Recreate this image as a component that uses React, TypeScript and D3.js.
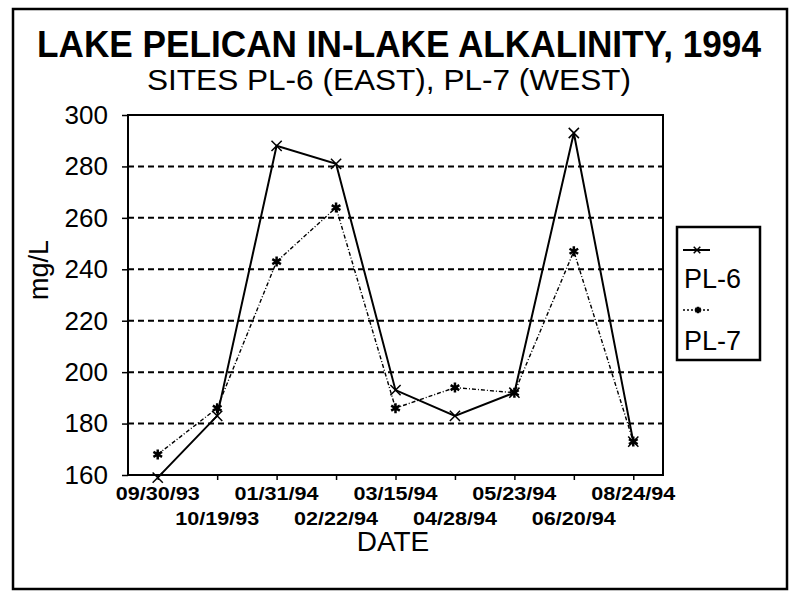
import React, { useRef, useEffect } from "react";
import * as d3 from "d3";

const dates = [
  "09/30/93",
  "10/19/93",
  "01/31/94",
  "02/22/94",
  "03/15/94",
  "04/28/94",
  "05/23/94",
  "06/20/94",
  "08/24/94",
];
const pl6 = [159, 183, 288, 281, 193, 183, 192, 293, 173];
const pl7 = [168, 186, 243, 264, 186, 194, 192, 247, 173];
const yTicks = [160, 180, 200, 220, 240, 260, 280, 300];

const W = 791;
const H = 592;
const FONT = "'Liberation Sans', Arial, sans-serif";

const App = () => {
  const ref = useRef<SVGSVGElement>(null);

  useEffect(() => {
    const svg = d3.select(ref.current);
    svg.selectAll("*").remove();

    const margin = { top: 115, bottom: 117, left: 128, right: 128 };
    const x = d3
      .scalePoint<string>()
      .domain(dates)
      .range([margin.left, W - margin.right])
      .padding(0.5);
    const y = d3
      .scaleLinear()
      .domain([160, 300])
      .range([H - margin.bottom, margin.top]);

    // outer frame
    svg
      .append("rect")
      .attr("x", 13)
      .attr("y", 9)
      .attr("width", 774)
      .attr("height", 580)
      .attr("fill", "none")
      .attr("stroke", "#000")
      .attr("stroke-width", 2.5);

    svg
      .append("text")
      .attr("x", 399)
      .attr("y", 57)
      .attr("text-anchor", "middle")
      .attr("font-family", FONT)
      .attr("font-weight", "bold")
      .attr("font-size", 36)
      .attr("textLength", 724)
      .attr("lengthAdjust", "spacingAndGlyphs")
      .text("LAKE PELICAN IN-LAKE ALKALINITY, 1994");

    svg
      .append("text")
      .attr("x", 389)
      .attr("y", 90)
      .attr("text-anchor", "middle")
      .attr("font-family", FONT)
      .attr("font-size", 29)
      .attr("textLength", 484)
      .attr("lengthAdjust", "spacingAndGlyphs")
      .text("SITES PL-6 (EAST), PL-7 (WEST)");

    // gridlines
    svg
      .append("g")
      .selectAll("line")
      .data(yTicks.filter((t) => t > 160 && t < 300))
      .enter()
      .append("line")
      .attr("x1", margin.left)
      .attr("x2", W - margin.right)
      .attr("y1", (d) => y(d))
      .attr("y2", (d) => y(d))
      .attr("stroke", "#000")
      .attr("stroke-width", 2)
      .attr("stroke-dasharray", "6,4");

    // plot frame
    svg
      .append("rect")
      .attr("x", margin.left)
      .attr("y", margin.top)
      .attr("width", W - margin.left - margin.right)
      .attr("height", H - margin.top - margin.bottom)
      .attr("fill", "none")
      .attr("stroke", "#000")
      .attr("stroke-width", 2);

    // y axis
    const yAxis = svg
      .append("g")
      .attr("transform", `translate(${margin.left},0)`)
      .call(d3.axisLeft(y).tickValues(yTicks).tickSize(6).tickPadding(14));
    yAxis.select(".domain").remove();
    yAxis.selectAll("line").attr("stroke", "#000").attr("stroke-width", 1.5);
    yAxis
      .selectAll("text")
      .attr("font-family", FONT)
      .attr("font-size", 26)
      .attr("fill", "#000");

    // x axis
    const xAxis = svg
      .append("g")
      .attr("transform", `translate(0,${H - margin.bottom})`)
      .call(d3.axisBottom(x).tickSize(5).tickFormat(() => ""));
    xAxis.select(".domain").remove();
    xAxis.selectAll("line").attr("stroke", "#000").attr("stroke-width", 1.5);

    svg
      .append("g")
      .selectAll("text")
      .data(dates)
      .enter()
      .append("text")
      .attr("x", (d) => x(d) as number)
      .attr("y", (d, i) => (i % 2 === 0 ? 500 : 525))
      .attr("text-anchor", "middle")
      .attr("font-family", FONT)
      .attr("font-weight", "bold")
      .attr("font-size", 19)
      .attr("textLength", 84)
      .attr("lengthAdjust", "spacingAndGlyphs")
      .text((d) => d);

    svg
      .append("text")
      .attr("x", 393)
      .attr("y", 551)
      .attr("text-anchor", "middle")
      .attr("font-family", FONT)
      .attr("font-size", 28)
      .text("DATE");

    svg
      .append("text")
      .attr("transform", "translate(48,270) rotate(-90)")
      .attr("text-anchor", "middle")
      .attr("font-family", FONT)
      .attr("font-size", 27)
      .text("mg/L");

    const line = d3
      .line<number>()
      .x((d, i) => x(dates[i]) as number)
      .y((d) => y(d));

    svg
      .append("path")
      .datum(pl7)
      .attr("d", line)
      .attr("fill", "none")
      .attr("stroke", "#000")
      .attr("stroke-width", 1.4)
      .attr("stroke-dasharray", "4,2,1,2");

    svg
      .append("path")
      .datum(pl6)
      .attr("d", line)
      .attr("fill", "none")
      .attr("stroke", "#000")
      .attr("stroke-width", 2);

    const xMark = d3.symbol().type(d3.symbolX).size(70);
    const starMark = d3.symbol().type(d3.symbolAsterisk).size(70);

    svg
      .append("g")
      .selectAll("path")
      .data(pl6)
      .enter()
      .append("path")
      .attr("d", xMark)
      .attr("transform", (d, i) => `translate(${x(dates[i])},${y(d)})`)
      .attr("fill", "none")
      .attr("stroke", "#000")
      .attr("stroke-width", 1.5);

    svg
      .append("g")
      .selectAll("path")
      .data(pl7)
      .enter()
      .append("path")
      .attr("d", starMark)
      .attr("transform", (d, i) => `translate(${x(dates[i])},${y(d)})`)
      .attr("fill", "none")
      .attr("stroke", "#000")
      .attr("stroke-width", 2.5);

    // legend
    const lg = svg.append("g");
    lg.append("rect")
      .attr("x", 677)
      .attr("y", 227)
      .attr("width", 83)
      .attr("height", 133)
      .attr("fill", "#fff")
      .attr("stroke", "#000")
      .attr("stroke-width", 2.5);
    lg.append("line")
      .attr("x1", 683)
      .attr("x2", 710)
      .attr("y1", 250)
      .attr("y2", 250)
      .attr("stroke", "#000")
      .attr("stroke-width", 2);
    lg.append("path")
      .attr("d", d3.symbol().type(d3.symbolX).size(30))
      .attr("transform", "translate(697,250)")
      .attr("fill", "none")
      .attr("stroke", "#000")
      .attr("stroke-width", 1.5);
    lg.append("text")
      .attr("x", 684)
      .attr("y", 288)
      .attr("font-family", FONT)
      .attr("font-size", 27)
      .text("PL-6");
    lg.append("line")
      .attr("x1", 683)
      .attr("x2", 710)
      .attr("y1", 310)
      .attr("y2", 310)
      .attr("stroke", "#000")
      .attr("stroke-width", 1.3)
      .attr("stroke-dasharray", "2,2");
    lg.append("path")
      .attr("d", d3.symbol().type(d3.symbolAsterisk).size(30))
      .attr("transform", "translate(698,310)")
      .attr("fill", "none")
      .attr("stroke", "#000")
      .attr("stroke-width", 2.5);
    lg.append("text")
      .attr("x", 684)
      .attr("y", 350)
      .attr("font-family", FONT)
      .attr("font-size", 27)
      .text("PL-7");
  });

  return (
    <svg
      ref={ref}
      width={W}
      height={H}
      style={{ position: "absolute", left: 0, top: 0, background: "#fff" }}
    ></svg>
  );
};

export default App;
